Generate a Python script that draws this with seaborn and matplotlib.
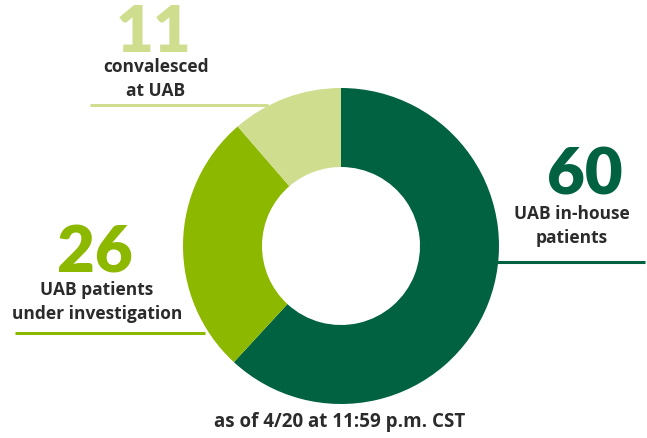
import matplotlib
matplotlib.use('Agg')
import matplotlib.pyplot as plt
import seaborn as sns

sns.set_theme(style='white')
plt.rcParams['font.family'] = ['Open Sans', 'DejaVu Sans']

# Data
labels = ['UAB in-house\npatients', 'UAB patients\nunder investigation', 'convalesced\nat UAB']
values = [60, 26, 11]
colors = ['#006241', '#8cb800', '#cfdd8f']
note = 'as of 4/20 at 11:59 p.m. CST'

W, H = 647, 438
fig = plt.figure(figsize=(W / 100, H / 100), dpi=100)
ax = fig.add_axes([0, 0, 1, 1])

# donut (pixel coordinates, y flipped)
cx, cy, r = 341, H - 246, 158
ax.pie(values, colors=colors, startangle=90, counterclock=False,
       center=(cx, cy), radius=r, wedgeprops={'width': r * 0.5, 'linewidth': 0})

# leader lines
ax.plot([90, 268], [H - 105, H - 105], color=colors[2], lw=2.2, solid_capstyle='butt', zorder=0)
ax.plot([15, 205], [H - 333, H - 333], color=colors[1], lw=2.2, solid_capstyle='butt', zorder=0)
ax.plot([480, 645], [H - 262, H - 262], color=colors[0], lw=2.2, solid_capstyle='butt', zorder=0)

txt = '#2b2b2b'
numfont = ['Lato', 'DejaVu Sans']
# 11 convalesced
ax.text(154, H - 34, str(values[2]), ha='center', va='center', fontsize=47,
        fontweight='heavy', color=colors[2], family=numfont)
ax.text(156, H - 79, labels[2], ha='center', va='center', fontsize=12.5,
        fontweight='bold', color=txt, linespacing=1.45)
# 26 under investigation
ax.text(95, H - 254, str(values[1]), ha='center', va='center', fontsize=47,
        fontweight='heavy', color=colors[1], family=numfont)
ax.text(97, H - 302, labels[1], ha='center', va='center', fontsize=12.5,
        fontweight='bold', color=txt, linespacing=1.45)
# 60 in-house
ax.text(585, H - 176, str(values[0]), ha='center', va='center', fontsize=47,
        fontweight='heavy', color=colors[0], family=numfont)
ax.text(572, H - 226, labels[0], ha='center', va='center', fontsize=12.5,
        fontweight='bold', color=txt, linespacing=1.45)

ax.text(340, H - 422, note, ha='center', va='center', fontsize=13.5,
        fontweight='bold', color=txt)

ax.set_xlim(0, W)
ax.set_ylim(0, H)
ax.set_aspect('auto')
ax.axis('off')

fig.savefig('out.png', dpi=100)
